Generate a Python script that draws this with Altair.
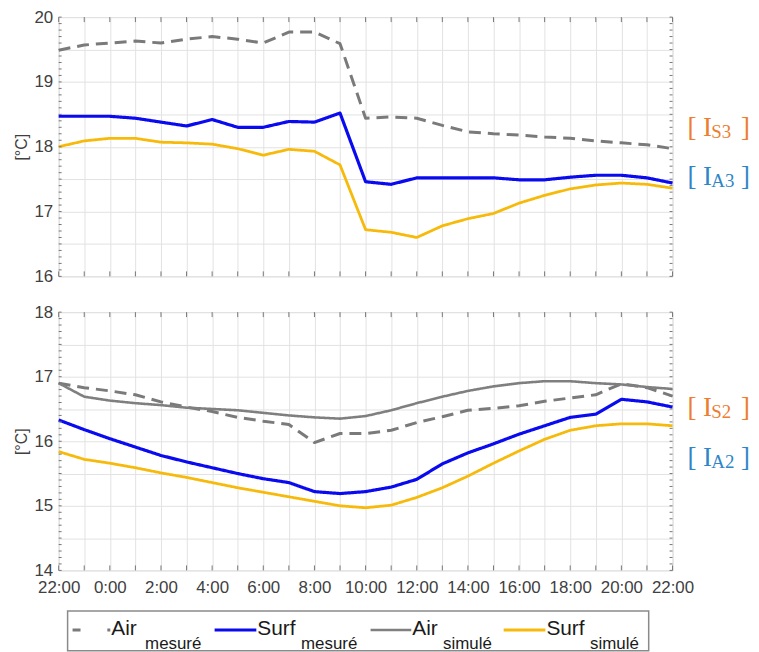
import altair as alt
import numpy as np
import pandas as pd

# ---------------- data ----------------
hours = list(range(25))  # 0 = 22:00 ... 24 = 22:00 next day

series_names = ["Air mesuré", "Surf mesuré", "Air simulé", "Surf simulé"]

# top panel (zone 3)
air_mes_top = [19.49, 19.57, 19.60, 19.63, 19.60, 19.66, 19.70, 19.66, 19.60, 19.77, 19.77, 19.59,
               18.44, 18.46, 18.44, 18.33, 18.23, 18.20, 18.18, 18.15, 18.13, 18.09, 18.06, 18.03, 17.97]
surf_mes_top = [18.47, 18.47, 18.47, 18.44, 18.38, 18.32, 18.42, 18.30, 18.30, 18.39, 18.38, 18.52,
                17.46, 17.42, 17.52, 17.52, 17.52, 17.52, 17.49, 17.49, 17.53, 17.56, 17.56, 17.52, 17.44]
surf_sim_top = [18.00, 18.09, 18.13, 18.13, 18.07, 18.06, 18.04, 17.97, 17.87, 17.96, 17.93, 17.72,
                16.72, 16.68, 16.60, 16.78, 16.89, 16.97, 17.13, 17.25, 17.35, 17.41, 17.44, 17.42, 17.36]

# bottom panel (zone 2)
air_mes_bot = [16.90, 16.83, 16.78, 16.72, 16.61, 16.53, 16.46, 16.37, 16.31, 16.26, 15.98, 16.12,
               16.12, 16.17, 16.29, 16.38, 16.48, 16.51, 16.55, 16.62, 16.67, 16.72, 16.89, 16.83, 16.70]
air_sim_bot = [16.90, 16.69, 16.63, 16.59, 16.56, 16.52, 16.50, 16.48, 16.44, 16.40, 16.37, 16.35,
               16.39, 16.48, 16.59, 16.69, 16.78, 16.85, 16.90, 16.93, 16.93, 16.90, 16.88, 16.84, 16.81]
surf_mes_bot = [16.33, 16.18, 16.04, 15.91, 15.78, 15.68, 15.59, 15.50, 15.42, 15.36, 15.22, 15.19,
                15.22, 15.29, 15.41, 15.65, 15.82, 15.96, 16.11, 16.24, 16.37, 16.42, 16.65, 16.61, 16.53]
surf_sim_bot = [15.84, 15.72, 15.66, 15.59, 15.51, 15.44, 15.36, 15.28, 15.21, 15.14, 15.07, 15.00,
                14.97, 15.01, 15.13, 15.28, 15.46, 15.66, 15.85, 16.03, 16.17, 16.24, 16.27, 16.27, 16.24]

top_series = {"Air mesuré": air_mes_top, "Surf mesuré": surf_mes_top, "Surf simulé": surf_sim_top}
bot_series = {"Air mesuré": air_mes_bot, "Surf mesuré": surf_mes_bot,
              "Air simulé": air_sim_bot, "Surf simulé": surf_sim_bot}

top_tags = ["S3", "A3"]
bot_tags = ["S2", "A2"]

# ---------------- style ----------------
W = 618
H_TOP = 261
H_BOT = 260
SANS = "Liberation Sans"
SERIF = "Liberation Serif"
AX = "#404040"
GRID = "#e2e2e2"
FRAME = "#8a8a8a"
ORANGE = "#ED7D31"
LBLUE = "#2E86C8"

color_scale = alt.Scale(domain=series_names,
                        range=["#7a7a7a", "#0a0af0", "#7f7f7f", "#F7BA0B"])
dash_scale = alt.Scale(domain=series_names, range=[[12, 7], [1, 0], [1, 0], [1, 0]])
widths = {"Air mesuré": 3, "Surf mesuré": 3.2, "Air simulé": 2.6, "Surf simulé": 2.8}


def x_enc(field, show_labels):
    return alt.X(f"{field}:Q",
                 scale=alt.Scale(domain=[0, 24], nice=False, zero=False),
                 axis=alt.Axis(values=hours, grid=True, gridColor=GRID, gridWidth=1,
                               domain=False, ticks=False, tickSize=0, title=None,
                               labels=show_labels,
                               labelExpr="datum.value % 2 == 0 ? ((datum.value + 22) % 24) + ':00' : ''",
                               labelFont=SANS, labelFontSize=17, labelColor=AX,
                               labelPadding=9, labelFlush=False, labelOverlap=False))


def y_enc(field, lo, hi):
    return alt.Y(f"{field}:Q",
                 scale=alt.Scale(domain=[lo, hi], nice=False, zero=False),
                 axis=alt.Axis(values=list(np.arange(lo, hi + 0.01, 0.5)), grid=True,
                               gridColor=GRID, gridWidth=1, domain=False, ticks=False,
                               tickSize=0, format=".0f",
                               labelExpr="datum.value % 1 == 0 ? datum.label : ''",
                               labelFont=SANS, labelFontSize=17, labelColor=AX,
                               labelPadding=6, labelOverlap=False, labelFlush=False,
                               title="[°C]", titleFont=SANS, titleFontSize=16,
                               titleFontWeight="normal", titleColor=AX, titlePadding=4))


def panel(series, lo, hi, height, tags, show_labels, legend):
    layers = []
    for name, vals in series.items():
        df = pd.DataFrame({"h": hours, "v": vals, "s": name})
        layers.append(
            alt.Chart(df).mark_line(strokeWidth=widths[name], strokeJoin="round").encode(
                x=x_enc("h", show_labels), y=y_enc("v", lo, hi),
                color=alt.Color("s:N", scale=color_scale, legend=None),
                strokeDash=alt.StrokeDash("s:N", scale=dash_scale, legend=None)))

    # inward minor ticks on y (left and right)
    ty = pd.DataFrame({"t": np.round(np.arange(lo, hi + 0.001, 0.1), 2)})
    for x0, x1 in [(0, 3), (W - 3, W)]:
        layers.append(alt.Chart(ty).mark_rule(color="#777", strokeWidth=1).encode(
            y=y_enc("t", lo, hi), x=alt.value(x0), x2=alt.value(x1)))
    # inward ticks on x (bottom and top)
    tx = pd.DataFrame({"k": hours})
    for y0, y1 in [(height, height - 5), (0, 5)]:
        layers.append(alt.Chart(tx).mark_rule(color="#777", strokeWidth=1).encode(
            x=x_enc("k", show_labels), y=alt.value(y0), y2=alt.value(y1)))

    # right-hand annotations [ I_xx ]
    one = pd.DataFrame({"a": [0]})
    base_y = [120, 169] if not legend else [105, 155]
    for tag, by in zip(tags, base_y):
        col = ORANGE if tag.startswith("S") else LBLUE
        layers.append(alt.Chart(one).mark_text(text="[ I", font=SERIF, fontSize=27, color=col,
                                               align="left", baseline="alphabetic").encode(
            x=alt.value(W + 15), y=alt.value(by)))
        layers.append(alt.Chart(one).mark_text(text=tag, font=SERIF, fontSize=19, color=col,
                                               align="left", baseline="alphabetic").encode(
            x=alt.value(W + 39), y=alt.value(by + 2)))
        layers.append(alt.Chart(one).mark_text(text="]", font=SERIF, fontSize=27, color=col,
                                               align="left", baseline="alphabetic").encode(
            x=alt.value(W + 69), y=alt.value(by)))

    if legend:
        # custom legend box under the plot
        top, bot = height + 41, height + 81
        layers.append(alt.Chart(one).mark_rect(fill="white", stroke=FRAME, strokeWidth=1.5).encode(
            x=alt.value(9), x2=alt.value(594), y=alt.value(top), y2=alt.value(bot)))
        ly = height + 60
        items = [("Air mesuré", 14, 52, "Air", "mesuré", 87),
                 ("Surf mesuré", 157, 199, "Surf", "mesuré", 244),
                 ("Air simulé", 314, 355, "Air", "simulé", 387),
                 ("Surf simulé", 448, 490, "Surf", "simulé", 535)]
        for name, xa, xb, main, sub, xs in items:
            dash = [8, 27] if name == "Air mesuré" else [1, 0]
            layers.append(alt.Chart(one).mark_rule(
                color=color_scale.range[series_names.index(name)],
                strokeWidth=widths[name], strokeDash=dash).encode(
                x=alt.value(xa), x2=alt.value(xb), y=alt.value(ly)))
            layers.append(alt.Chart(one).mark_text(text=main, font=SANS, fontSize=21, color="#1a1a1a",
                                                   align="left", baseline="alphabetic").encode(
                x=alt.value(xb + 1), y=alt.value(ly + 5)))
            layers.append(alt.Chart(one).mark_text(text=sub, font=SANS, fontSize=17, color="#1a1a1a",
                                                   align="left", baseline="alphabetic").encode(
                x=alt.value(xs), y=alt.value(ly + 19)))

    return alt.layer(*layers).properties(width=W, height=height)


top = panel(top_series, 16, 20, H_TOP, top_tags, False, False)
bottom = panel(bot_series, 14, 18, H_BOT, bot_tags, True, True)

chart = alt.vconcat(top, bottom, spacing=17).properties(
    padding={"left": 5, "top": -3, "right": 0, "bottom": 0}
).configure_view(stroke=FRAME, strokeWidth=1.5).configure(background="white")

chart.save("out.html", embed_options={"renderer": "svg", "actions": False})
